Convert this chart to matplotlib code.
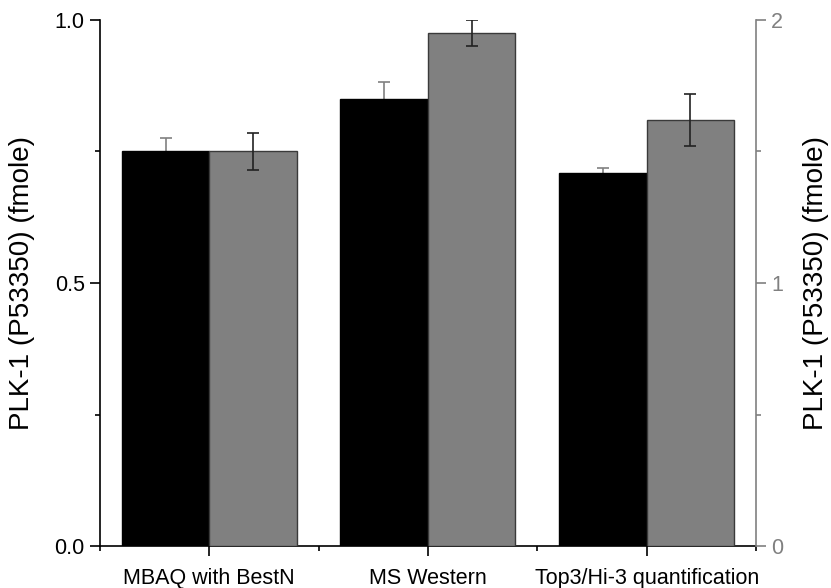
import numpy as np
import matplotlib
matplotlib.use("Agg")
import matplotlib.pyplot as plt
from matplotlib.ticker import MultipleLocator, FormatStrFormatter

plt.rcParams['font.family'] = ['Liberation Sans', 'DejaVu Sans']

# data
methods = ["MBAQ with BestN", "MS Western", "Top3/Hi-3 quantification"]
left_vals = [0.750, 0.850, 0.710]      # black bars, left axis
left_err = [0.025, 0.033, 0.009]
right_vals = [1.50, 1.95, 1.62]        # grey bars, right axis
right_err = [0.07, 0.05, 0.10]

GREY = "#808080"

fig = plt.figure(figsize=(8.31, 5.88), dpi=100)
ax = fig.add_axes([0.1203, 0.0714, 0.7894, 0.8946])
ax2 = ax.twinx()

x = np.arange(1, len(methods) + 1)
w = 0.4

# error bars sit behind the black bars, so only the upper half shows
ax.errorbar(x - w / 2, left_vals, yerr=left_err, fmt="none", ecolor=GREY,
            elinewidth=1.2, capsize=4, capthick=1.2, zorder=1)
ax.bar(x - w / 2, left_vals, w, color="black", edgecolor="black", linewidth=1, zorder=2)

ax2.bar(x + w / 2, right_vals, w, color=GREY, edgecolor="#3a3a3a", linewidth=1)
ax2.errorbar(x + w / 2, right_vals, yerr=right_err, fmt="none", ecolor="#222222",
             elinewidth=1.2, capsize=4, capthick=1.2)

ax.set_xlim(0.5, 3.5)
ax.set_ylim(0, 1.0)
ax2.set_ylim(0, 2.0)

ax.set_xticks(x)
ax.set_xticklabels(methods, fontsize=15.5)
ax.set_xticks([0.5, 1.5, 2.5, 3.5], minor=True)

ax.yaxis.set_major_locator(MultipleLocator(0.5))
ax.yaxis.set_minor_locator(MultipleLocator(0.25))
ax.yaxis.set_major_formatter(FormatStrFormatter("%.1f"))
ax2.yaxis.set_major_locator(MultipleLocator(1))
ax2.yaxis.set_minor_locator(MultipleLocator(0.5))

ax.tick_params(axis="both", which="major", length=7.5, width=1.2, labelsize=15.5, direction="out")
ax.tick_params(axis="both", which="minor", length=3.5, width=1.2, direction="out")
ax.tick_params(axis="x", which="major", pad=8)
ax2.tick_params(axis="y", which="major", length=7.5, width=1.2, labelsize=15.5,
                colors=GREY, direction="out")
ax2.tick_params(axis="y", which="minor", length=3.5, width=1.2, colors=GREY, direction="out")

for a in (ax, ax2):
    a.spines["top"].set_visible(False)
ax.spines["right"].set_visible(False)
ax2.spines["left"].set_visible(False)
ax2.spines["bottom"].set_visible(False)
ax2.spines["right"].set_color(GREY)
ax2.spines["right"].set_linewidth(1.2)
ax.spines["left"].set_linewidth(1.2)
ax.spines["bottom"].set_linewidth(1.2)

ax.set_ylabel("PLK-1 (P53350) (fmole)", fontsize=20, labelpad=14)
ax2.set_ylabel("PLK-1 (P53350) (fmole)", fontsize=20, rotation=90, labelpad=14)

fig.savefig("out.png", dpi=100)
